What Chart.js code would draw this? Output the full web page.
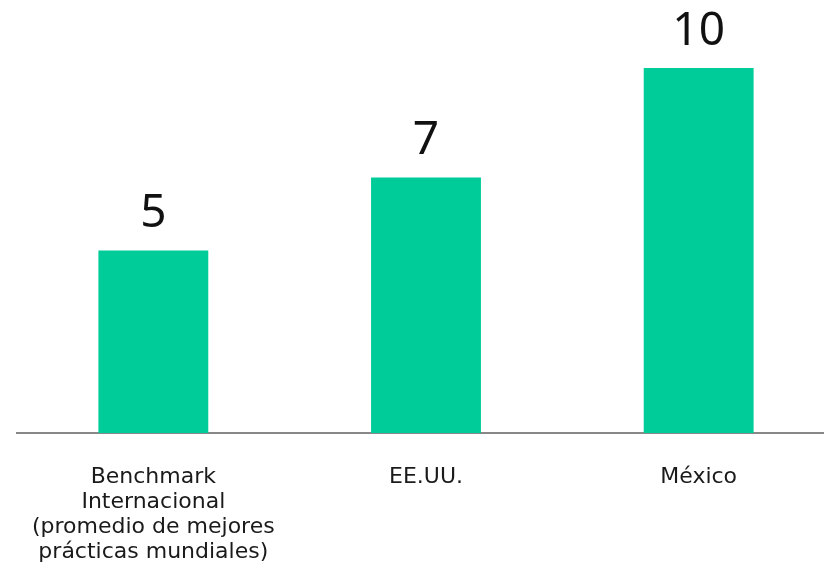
<!DOCTYPE html>
<html>
<head>
<meta charset="utf-8">
<script src="https://cdn.jsdelivr.net/npm/chart.js@4"></script>
<style>
  html, body { margin: 0; padding: 0; background: #fff; overflow: hidden; }
  #wrap { width: 835px; height: 589px; }
</style>
</head>
<body>
<div id="wrap"><canvas id="chart" width="835" height="589"></canvas></div>
<script>
// --- data ---
const categories = [
    ['Benchmark', 'Internacional', '(promedio de mejores', 'prácticas mundiales)'],
    'EE.UU.',
    'México'
];
const values = [5, 7, 10];

// value labels drawn above each bar
const valueLabels = {
    id: 'valueLabels',
    afterDatasetsDraw(chart) {
        const ctx = chart.ctx;
        const meta = chart.getDatasetMeta(0);
        ctx.save();
        ctx.fillStyle = '#111';
        ctx.font = '46px "Noto Sans", sans-serif';
        ctx.textAlign = 'center';
        ctx.textBaseline = 'alphabetic';
        meta.data.forEach((bar, i) => {
            ctx.fillText(String(values[i]), bar.x, bar.y - 23);
        });
        ctx.restore();
    }
};

const ctx = document.getElementById('chart').getContext('2d');
new Chart(ctx, {
    type: 'bar',
    data: {
        labels: categories,
        datasets: [{
            data: values,
            backgroundColor: '#00CC99',
            borderWidth: 0,
            barPercentage: 0.403,
            categoryPercentage: 1
        }]
    },
    options: {
        responsive: false,
        animation: false,
        layout: { padding: { left: 17, right: 0, top: 0, bottom: 0 } },
        scales: {
            x: {
                grid: { display: false },
                border: { color: '#888', width: 2 },
                ticks: {
                    color: '#1a1a1a',
                    padding: 24,
                    maxRotation: 0,
                    font: { family: '"DejaVu Sans", sans-serif', size: 22, lineHeight: 1.136 }
                }
            },
            y: {
                display: false,
                min: 0,
                max: 11.86
            }
        },
        plugins: {
            legend: { display: false },
            tooltip: { enabled: false }
        }
    },
    plugins: [valueLabels]
});
</script>
</body>
</html>
